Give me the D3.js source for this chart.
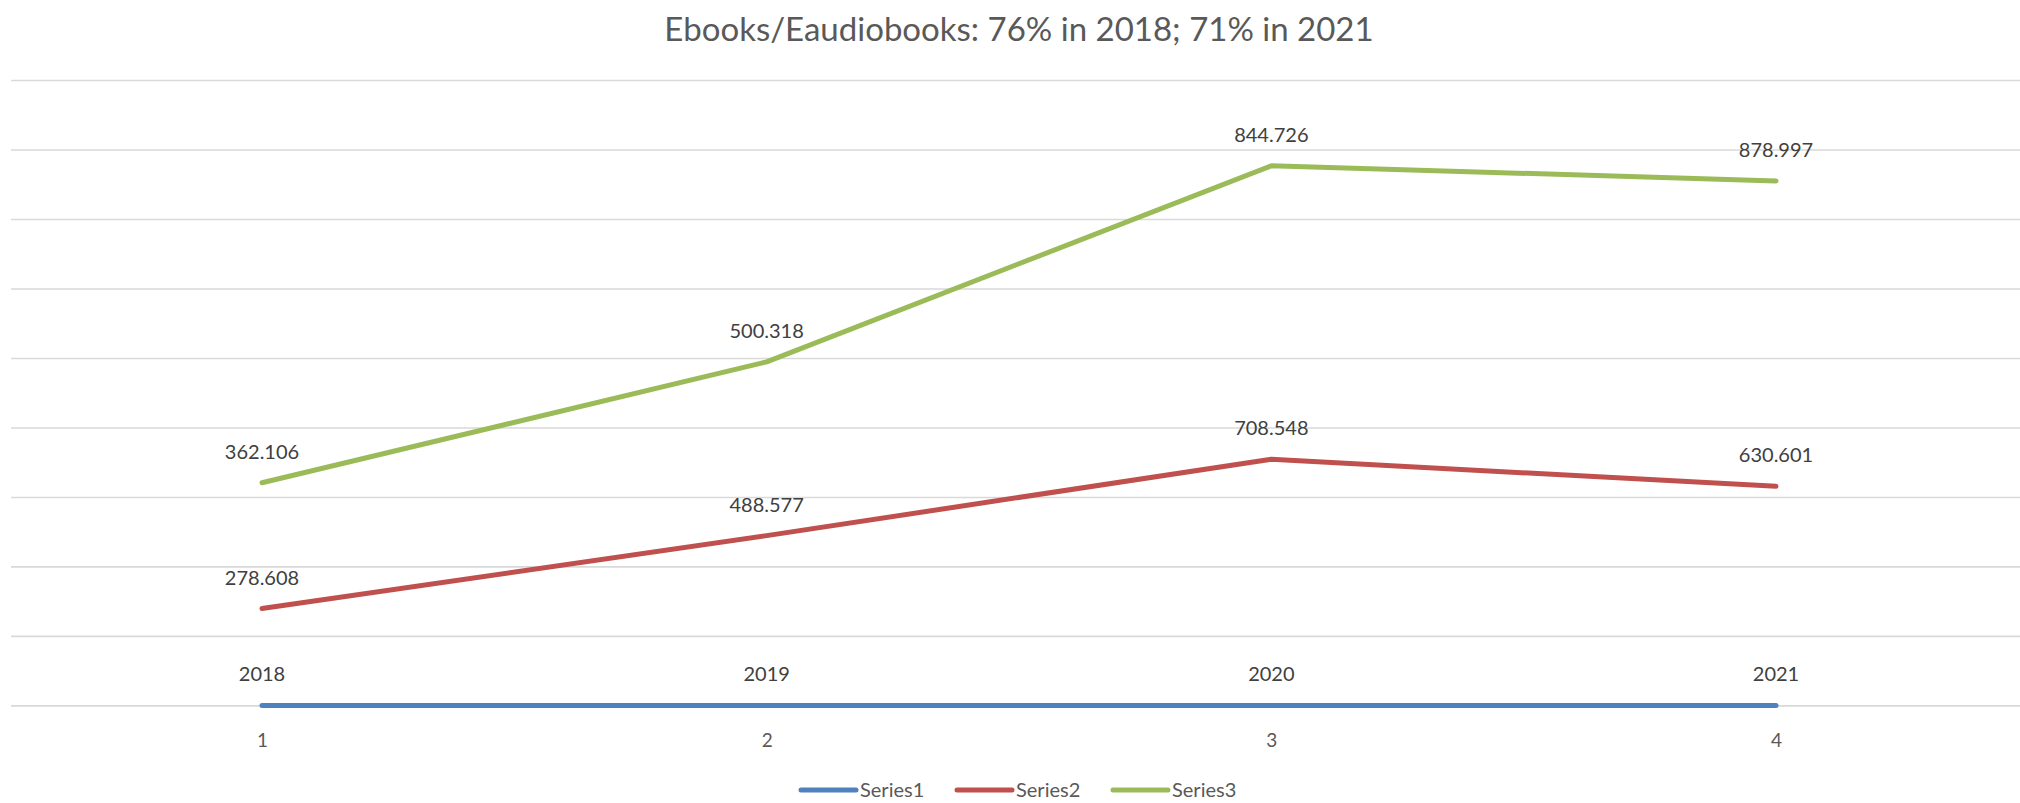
<!DOCTYPE html>
<html>
<head>
<meta charset="utf-8">
<script src="https://cdn.jsdelivr.net/npm/d3@7"></script>
<style>
  html, body { margin: 0; padding: 0; background: #fff; }
  svg { display: block; }
  text { font-family: "Lato", "Open Sans", sans-serif; }
</style>
</head>
<body>
<div id="chart"></div>
<script>
const title = "Ebooks/Eaudiobooks: 76% in 2018; 71% in 2021";
const categories = ["1", "2", "3", "4"];
const seriesNames = ["Series1", "Series2", "Series3"];
const series1 = [0, 0, 0, 0];
const series1Labels = ["2018", "2019", "2020", "2021"];
const series2 = [278.608, 488.577, 708.548, 630.601];
const series3 = [362.106, 500.318, 844.726, 878.997];
const yTicks = [0, 200, 400, 600, 800, 1000, 1200, 1400, 1600, 1800];
const colors = ["#4F81BD", "#C0504D", "#9BBB59"];

const W = 2020, H = 803;
const svg = d3.select("#chart").append("svg").attr("width", W).attr("height", H);

const x = d3.scalePoint().domain(categories).range([262, 1776]);
const y = d3.scaleLinear().domain([0, 1800]).range([705.4, 80]);

// stacked line chart
const rows = categories.map((c, i) => ({ c, s1: series1[i], s2: series2[i], s3: series3[i] }));
const stack = d3.stack().keys(["s1", "s2", "s3"]);
const stacked = stack(rows);
const labels = [series1Labels, series2.map(v => v.toFixed(3)), series3.map(v => v.toFixed(3))];

// gridlines
const yAxis = d3.axisLeft(y).tickValues(yTicks).tickSize(-(2020 - 11)).tickFormat("");
const gy = svg.append("g").attr("transform", "translate(11,0)").call(yAxis);
gy.select(".domain").remove();
gy.selectAll(".tick line").attr("stroke", "#d9d9d9").attr("stroke-width", 1.6);

// x axis labels
const xAxis = d3.axisBottom(x).tickSize(0).tickPadding(0);
const gx = svg.append("g").attr("transform", "translate(0,740)").call(xAxis);
gx.select(".domain").remove();
gx.selectAll(".tick text").attr("font-size", 19).attr("fill", "#595959")
  .attr("dy", "0.35em").style("font-family", "Lato, 'Open Sans', sans-serif");

// title
svg.append("text").attr("x", 1019).attr("y", 41).attr("text-anchor", "middle")
  .attr("font-size", 33).attr("fill", "#595959").text(title);

const line = d3.line().x((d, i) => x(categories[i])).y(d => y(d[1]));

stacked.forEach((s, k) => {
  svg.append("path").datum(s).attr("d", line)
    .attr("fill", "none").attr("stroke", colors[k]).attr("stroke-width", 5)
    .attr("stroke-linecap", "round").attr("stroke-linejoin", "round");
});

stacked.forEach((s, k) => {
  svg.append("g").selectAll("text").data(s).join("text")
    .attr("x", (d, i) => x(categories[i]))
    .attr("y", d => y(d[1]) - 31)
    .attr("dy", "0.35em")
    .attr("text-anchor", "middle")
    .attr("font-size", 20)
    .attr("fill", "#404040")
    .text((d, i) => labels[k][i]);
});

// legend
const legendItems = [{ x: 801 }, { x: 957 }, { x: 1113 }];
const lg = svg.append("g");
seriesNames.forEach((n, k) => {
  const lx = legendItems[k].x;
  lg.append("line").attr("x1", lx).attr("x2", lx + 55).attr("y1", 790).attr("y2", 790)
    .attr("stroke", colors[k]).attr("stroke-width", 5).attr("stroke-linecap", "round");
  lg.append("text").attr("x", lx + 59).attr("y", 790).attr("dy", "0.35em")
    .attr("font-size", 20).attr("fill", "#595959").text(n);
});
</script>
</body>
</html>
